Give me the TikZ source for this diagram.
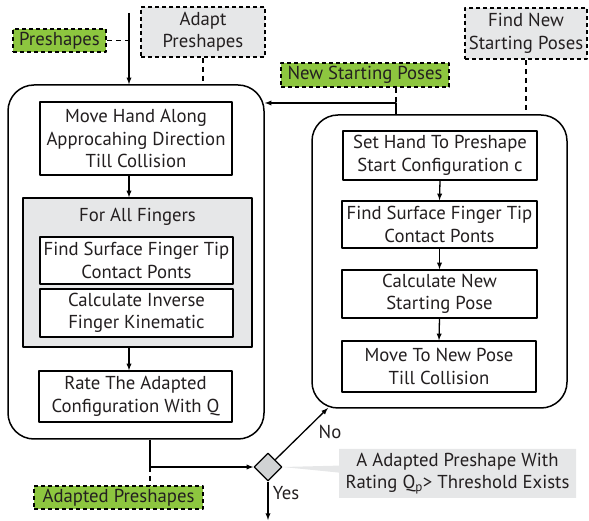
\documentclass[tikz,border=0pt]{standalone}
\usepackage{fontspec}
\setmainfont{PT Sans}
\usetikzlibrary{shapes.geometric,shapes.callouts}
\definecolor{leafgreen}{RGB}{141,198,63}
\definecolor{panelgray}{RGB}{230,231,232}
\definecolor{diamondgray}{RGB}{209,211,212}
\definecolor{inkgray}{RGB}{35,31,32}
\begin{document}
\begin{tikzpicture}[>=latex,line join=bevel,
  every node/.style={font=\fontsize{18.8}{22.5}\selectfont,align=center,inner sep=0pt,text=inkgray},
  stepbox/.style={draw,line width=1.3bp,fill=white},
  loopbox/.style={draw,line width=1.5bp,rounded corners=26bp},
  databox/.style={draw,line width=1.8bp,dash pattern=on 4bp off 3bp,fill=leafgreen},
  taskbox/.style={draw,line width=1.8bp,dash pattern=on 4bp off 3bp,fill=panelgray},
  flow/.style={line width=1.3bp},
  link/.style={line width=1.5bp,dash pattern=on 5bp off 4bp},
]
\useasboundingbox (0bp,0bp) rectangle (589bp,521bp);
%%
\node (loop_left) at (136.0bp,259.0bp) [loopbox,minimum width=256bp,minimum height=354bp] {};
  \node (loop_right) at (439.5bp,259.5bp) [loopbox,minimum width=255bp,minimum height=293bp] {};
  \node (preshapes) at (59.5bp,480.5bp) [databox,minimum width=93bp,minimum height=23bp] {Preshapes};
  \node (adapt) at (203.0bp,489.0bp) [taskbox,minimum width=124bp,minimum height=50bp] {Adapt\\Preshapes};
  \node (find_new) at (526.0bp,487.5bp) [taskbox,minimum width=122bp,minimum height=51bp] {Find New\\Starting Poses};
  \node (new_poses) at (365.0bp,446.0bp) [databox,minimum width=168bp,minimum height=24bp] {New Starting Poses};
  \node (adapted) at (118.5bp,23.5bp) [databox,minimum width=169bp,minimum height=23bp] {Adapted Preshapes};
%
\node (move_hand) at (136.0bp,382.5bp) [stepbox,minimum width=192bp,minimum height=73bp] {Move Hand Along\\Approcahing Direction\\Till Collision};
  \node (group) at (137.5bp,248.5bp) [stepbox,fill=panelgray,minimum width=229bp,minimum height=149bp] {};
  \node (group_title) at (137.5bp,304.0bp) {For All Fingers};
  \node (find_tip) at (136.5bp,260.5bp) [stepbox,minimum width=193bp,minimum height=47bp] {Find Surface Finger Tip\\Contact Ponts};
  \node (inv_kin) at (136.5bp,208.0bp) [stepbox,minimum width=193bp,minimum height=48bp] {Calculate Inverse\\Finger Kinematic};
  \node (rate) at (135.5bp,124.5bp) [stepbox,minimum width=193bp,minimum height=51bp] {Rate The Adapted\\Configuration With Q};
%
\node (set_hand) at (440.0bp,365.5bp) [stepbox,minimum width=194bp,minimum height=49bp] {Set Hand To Preshape\\Start Configuration c};
  \node (find_tip_r) at (439.5bp,296.5bp) [stepbox,minimum width=195bp,minimum height=47bp] {Find Surface Finger Tip\\Contact Ponts};
  \node (calc_new) at (439.5bp,227.0bp) [stepbox,minimum width=195bp,minimum height=48bp] {Calculate New\\Starting Pose};
  \node (move_new) at (439.0bp,154.5bp) [stepbox,minimum width=194bp,minimum height=51bp] {Move To New Pose\\Till Collision};
%
\node (cond) at (268.0bp,54.0bp) [diamond,draw,line width=1.3bp,fill=diamondgray,minimum width=28bp,minimum height=28bp] {};
  \node (note) at (457.5bp,47.5bp) [rectangle callout,fill=panelgray,minimum width=237bp,minimum height=49bp,callout absolute pointer={(cond.east)},callout pointer width=7bp] {A Adapted Preshape With\\Rating Q\textsubscript{p}> Threshold Exists};
  \node (yes) at (286.0bp,28.0bp) {Yes};
  \node (no) at (330.0bp,89.0bp) {No};
%
\coordinate (feed) at (129.0bp,508.0bp);
  \coordinate (merge) at (150.0bp,54.0bp);
  \coordinate (retry) at (328.0bp,113.0bp);
  \coordinate (yes_end) at (268.0bp,1.0bp);
  \coordinate (turn) at (396.0bp,418.0bp);
  \draw [flow,->] (feed) -- (feed |- loop_left.north);
  \draw [link] (preshapes.east) -- (feed |- preshapes.east);
  \draw [link] (adapt.south) -- (adapt.south |- loop_left.north);
  \draw [flow,->] (feed |- move_hand.south) -- (feed |- group.north);
  \draw [flow,->] (feed |- group.south) -- (feed |- rate.north);
  \draw [flow,->] (merge |- loop_left.south) -- (merge) -- (cond.west);
  \draw [link] (merge) -- (merge |- adapted.north);
  \draw [flow,->] (cond.north east) -- (retry);
  \draw [flow,->] (cond.south) -- (yes_end);
  \draw [flow,->] (set_hand.south) -- (find_tip_r.north);
  \draw [flow,->] (find_tip_r.south) -- (calc_new.north);
  \draw [flow,->] (calc_new.south) -- (move_new.north);
  \draw [flow,->] (turn |- loop_right.north) -- (turn) -- (turn -| loop_left.east);
  \draw [link] (new_poses.south -| turn) -- (turn);
  \draw [link] (find_new.south) -- (find_new.south |- loop_right.north);
%
\end{tikzpicture}
\end{document}
